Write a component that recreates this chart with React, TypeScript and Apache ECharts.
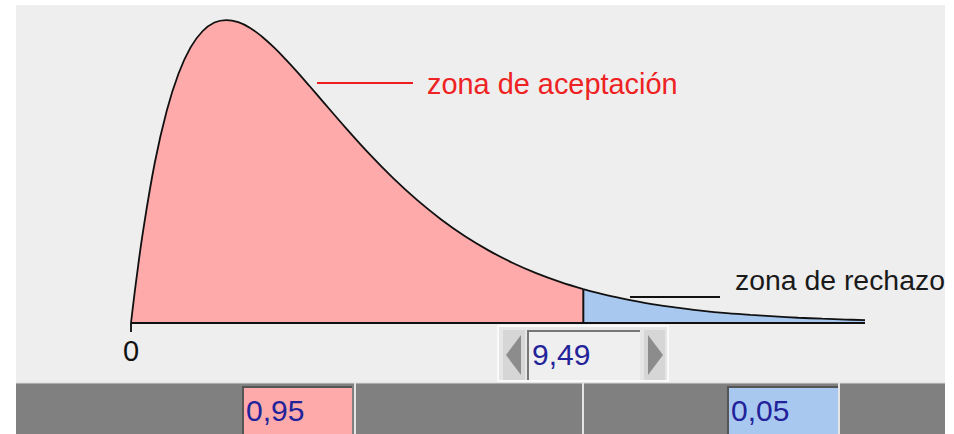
import React, { useEffect, useRef } from "react";
import * as echarts from "echarts";

// Chi-square density curve (acceptance part up to the critical value)
const xAccept = [0, 0.05, 0.1, 0.25, 0.5, 0.75, 1, 1.25, 1.5, 1.75, 2, 2.25, 2.5, 2.75, 3, 3.25, 3.5, 3.75, 4, 4.5, 5, 5.5, 6, 6.5, 7, 7.5, 8, 8.5, 9, 9.49];
const yAccept = [0, 0.0122, 0.0238, 0.0552, 0.0974, 0.1289, 0.1516, 0.1673, 0.1771, 0.1824, 0.1839, 0.1826, 0.1791, 0.1738, 0.1673, 0.1599, 0.152, 0.1437, 0.1353, 0.1186, 0.1026, 0.0879, 0.0747, 0.063, 0.0528, 0.0441, 0.0366, 0.0303, 0.025, 0.0206];
// Rejection tail
const xReject = [9.49, 10, 10.5, 11, 11.5, 12, 12.5, 13, 13.5, 14, 14.5, 15, 15.4];
const yReject = [0.0206, 0.0168, 0.0138, 0.0112, 0.0092, 0.0074, 0.006, 0.0049, 0.004, 0.0032, 0.0026, 0.0021, 0.0017];

const criticalValue = 9.49;
const xMax = 15.4;
const axisLabels = ["0"];
const criticalText = "9,49";
const acceptProb = "0,95";
const rejectProb = "0,05";
const acceptLabel = "zona de aceptación";
const rejectLabel = "zona de rechazo";

const FONT = "'Liberation Sans', Arial, sans-serif";

export default function App() {
  const ref = useRef<HTMLDivElement>(null);
  useEffect(() => {
    if (!ref.current) return;
    const chart = echarts.init(ref.current, undefined, { renderer: "svg" });
    const accept = xAccept.map((x, i) => [x, yAccept[i]]);
    const reject = xReject.map((x, i) => [x, yReject[i]]);
    const critY = yAccept[yAccept.length - 1];

    const numText = (x: number, y: number, t: string) => ({
      type: "text",
      x,
      y,
      z: 110,
      style: { text: t, fill: "#22229a", font: `30px ${FONT}`, textVerticalAlign: "middle" },
    });

    chart.setOption({
      animation: false,
      backgroundColor: "#ffffff",
      grid: { left: 131, right: 954 - 865, top: 10, bottom: 111, containLabel: false },
      xAxis: {
        type: "value",
        min: 0,
        max: xMax,
        axisLine: { show: false },
        splitLine: { show: false },
        axisTick: { show: true, customValues: [0], length: 9, lineStyle: { color: "#222", width: 2 } },
        axisLabel: {
          customValues: [0],
          formatter: () => axisLabels[0],
          color: "#111",
          fontFamily: FONT,
          fontSize: 29,
          margin: 13,
        },
      },
      yAxis: { type: "value", min: 0, max: 0.19, show: false },
      series: [
        {
          type: "line",
          data: accept,
          smooth: 0.4,
          symbol: "none",
          lineStyle: { color: "#111", width: 1.8 },
          areaStyle: { color: "#ffaaaa", opacity: 1 },
          z: 3,
        },
        {
          type: "line",
          data: reject,
          smooth: 0.4,
          symbol: "none",
          lineStyle: { color: "#111", width: 1.8 },
          areaStyle: { color: "#a8c8f0", opacity: 1 },
          z: 3,
        },
        {
          type: "line",
          data: [[criticalValue, 0], [criticalValue, critY]],
          symbol: "none",
          lineStyle: { color: "#111", width: 2 },
          z: 4,
        },
        {
          type: "line",
          data: [[0, 0], [xMax, 0]],
          symbol: "none",
          lineStyle: { color: "#111", width: 2.2 },
          z: 5,
        },
      ],
      graphic: [
        { type: "rect", z: -10, shape: { x: 16, y: 5, width: 929, height: 429 }, style: { fill: "#eeeeee" } },
        // annotations
        { type: "line", z: 50, shape: { x1: 317, y1: 83, x2: 413, y2: 83 }, style: { stroke: "#ee1c1c", lineWidth: 2 } },
        {
          type: "text", x: 427, y: 84, z: 50,
          style: { text: acceptLabel, fill: "#ee2222", font: `28.9px ${FONT}`, textVerticalAlign: "middle" },
        },
        { type: "line", z: 50, shape: { x1: 630, y1: 297, x2: 720, y2: 297 }, style: { stroke: "#111", lineWidth: 2 } },
        {
          type: "text", x: 735, y: 280, z: 50,
          style: { text: rejectLabel, fill: "#1a1a1a", font: `28.4px ${FONT}`, textVerticalAlign: "middle" },
        },
        // slider
        { type: "rect", z: 100, shape: { x: 498, y: 326, width: 170, height: 55 }, style: { fill: "#e6e6e6", stroke: "#fafafa", lineWidth: 2 } },
        { type: "rect", z: 101, shape: { x: 503, y: 330, width: 22, height: 50 }, style: { fill: "#d6d6d6" } },
        { type: "polygon", z: 102, shape: { points: [[506, 355], [521, 335], [521, 375]] }, style: { fill: "#8c8c8c" } },
        { type: "rect", z: 101, shape: { x: 527, y: 330, width: 113, height: 50 }, style: { fill: "#efefef" } },
        { type: "polyline", z: 102, shape: { points: [[528, 380], [528, 331], [640, 331]] }, style: { stroke: "#777", lineWidth: 2, fill: "none" } },
        { type: "rect", z: 101, shape: { x: 644, y: 330, width: 21, height: 50 }, style: { fill: "#d6d6d6" } },
        { type: "polygon", z: 102, shape: { points: [[648, 335], [648, 375], [663, 355]] }, style: { fill: "#8c8c8c" } },
        numText(532, 354, criticalText),
        // bottom bar
        { type: "rect", z: 100, shape: { x: 16, y: 383, width: 929, height: 51 }, style: { fill: "#808080" } },
        { type: "line", z: 101, shape: { x1: 16, y1: 383, x2: 945, y2: 383 }, style: { stroke: "#d8d8d8", lineWidth: 1 } },
        { type: "line", z: 101, shape: { x1: 355, y1: 383, x2: 355, y2: 434 }, style: { stroke: "#e4e4e4", lineWidth: 2 } },
        { type: "line", z: 101, shape: { x1: 583, y1: 383, x2: 583, y2: 434 }, style: { stroke: "#e4e4e4", lineWidth: 2 } },
        { type: "line", z: 101, shape: { x1: 839, y1: 383, x2: 839, y2: 434 }, style: { stroke: "#e4e4e4", lineWidth: 2 } },
        { type: "rect", z: 102, shape: { x: 242, y: 386, width: 110, height: 48 }, style: { fill: "#ffaaaa" } },
        { type: "polyline", z: 103, shape: { points: [[243, 434], [243, 387], [352, 387]] }, style: { stroke: "#555", lineWidth: 2, fill: "none" } },
        numText(246, 410, acceptProb),
        { type: "rect", z: 102, shape: { x: 727, y: 386, width: 111, height: 48 }, style: { fill: "#a8c8f0" } },
        { type: "polyline", z: 103, shape: { points: [[728, 434], [728, 387], [838, 387]] }, style: { stroke: "#555", lineWidth: 2, fill: "none" } },
        numText(731, 410, rejectProb),
      ],
    });
    return () => chart.dispose();
  }, []);
  return <div ref={ref} style={{ position: "absolute", left: 0, top: 0, width: 954, height: 434 }} />;
}
